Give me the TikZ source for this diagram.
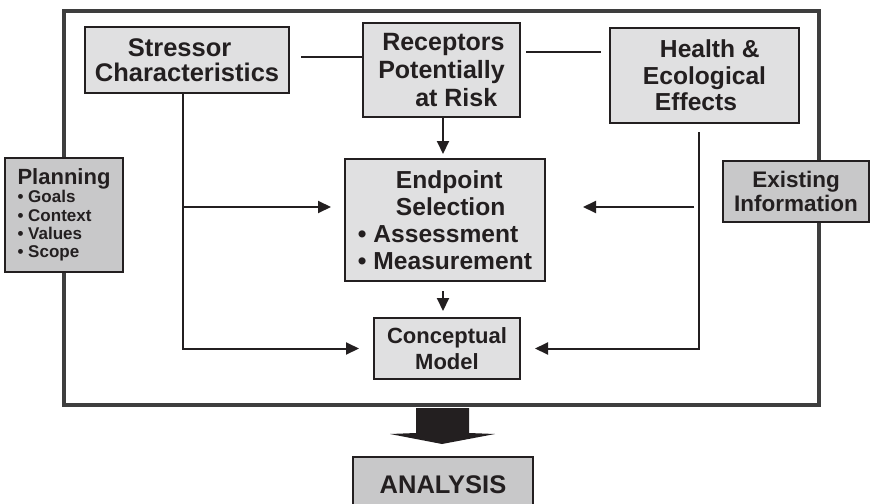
\documentclass[tikz,border=0pt]{standalone}
\usepackage{fontspec}
\setmainfont{Liberation Sans}
\usetikzlibrary{arrows.meta}
\definecolor{ink}{RGB}{35,31,32}
\definecolor{framegray}{RGB}{62,62,62}
\definecolor{boxlight}{RGB}{224,224,225}
\definecolor{boxdark}{RGB}{200,200,201}
% small bulleted line inside the planning box
\newcommand\plnitem[1]{\fontsize{17}{18.3}\selectfont • #1}
\begin{document}
\begin{tikzpicture}[x=1pt,y=-1pt,
  box/.style={draw=ink, line width=2pt, fill=boxlight, text=ink, inner sep=0pt},
  darkbox/.style={box, fill=boxdark},
  link/.style={draw=ink, line width=2pt},
  arr/.style={link, -{Triangle[length=13pt,width=12pt]}},
]
\useasboundingbox (0,0) rectangle (872,503);
\fill[white] (0,0) rectangle (872,503);

% outer frame of the problem-formulation stage
\draw[framegray, line width=4.3pt] (64,11) rectangle (819,405);

% boxes
\node[box, minimum width=204pt, minimum height=66pt, align=left,
      font=\bfseries\fontsize{25.5}{25}\selectfont] (stressor) at (187,60)
  {\hspace*{33pt}Stressor\\Characteristics};
\node[box, minimum width=157pt, minimum height=94pt, align=left,
      font=\bfseries\fontsize{25}{28}\selectfont] (receptors) at (441.5,70)
  {\hspace*{4pt}Receptors\\Potentially\\\hspace*{37pt}at Risk};
\node[box, minimum width=189pt, minimum height=95pt, align=left,
      font=\bfseries\fontsize{24.6}{26.5}\selectfont] (health) at (704.5,75.5)
  {\hspace*{17pt}Health \&\\Ecological\\\hspace*{12pt}Effects};
\node[darkbox, minimum width=118pt, minimum height=114pt, align=left,
      font=\bfseries\fontsize{22}{18.3}\selectfont] (planning) at (64,215)
  {Planning\\\plnitem{Goals}\\\plnitem{Context}\\\plnitem{Values}\\\plnitem{Scope}};
\node[darkbox, minimum width=146pt, minimum height=61pt, align=center,
      font=\bfseries\fontsize{22.5}{24}\selectfont] (existing) at (796,191.5)
  {Existing\\Information};
\node[box, minimum width=200pt, minimum height=122pt, align=left,
      font=\bfseries\fontsize{24.6}{27}\selectfont] (endpoint) at (445,220)
  {\hspace*{38pt}Endpoint\\\hspace*{38pt}Selection\\• Assessment\\• Measurement};
\node[box, minimum width=146pt, minimum height=61pt, align=center,
      font=\bfseries\fontsize{22}{26}\selectfont] (conceptual) at (447,348.5)
  {Conceptual\\Model};
\node[darkbox, minimum width=180pt, minimum height=55pt,
      font=\bfseries\fontsize{25.5}{28}\selectfont] (analysis) at (443,484.5)
  {ANALYSIS};

% links along the top row
\draw[link] ([xshift=11pt,yshift=3pt]stressor.east) -- ([yshift=3pt]stressor.east -| receptors.west);
\draw[link] ([xshift=5pt,yshift=18pt]receptors.east) -- ([xshift=-8pt,yshift=18pt]receptors.east -| health.west);

% central flow
\draw[arr] ([xshift=1.5pt]receptors.south) -- ([xshift=1.5pt,yshift=4pt]receptors.south |- endpoint.north);
\draw[arr] ([xshift=-2pt,yshift=-9pt]endpoint.south) -- ([xshift=-2pt,yshift=6pt]endpoint.south |- conceptual.north);

% stressor branch
\coordinate (sdrop) at ([xshift=-4pt]stressor.south);
\draw[arr] (sdrop) |- ([xshift=-14pt]conceptual.west);
\draw[arr] ([yshift=13pt]endpoint.west -| sdrop) -- ([xshift=-13pt,yshift=13pt]endpoint.west);

% effects branch
\coordinate (hdrop) at ([xshift=-5.5pt,yshift=-8pt]health.south);
\draw[arr] (hdrop) |- ([xshift=14pt]conceptual.east);
\draw[arr] ([xshift=-5pt,yshift=13pt]endpoint.east -| hdrop) -- ([xshift=37pt,yshift=13pt]endpoint.east);

% block arrow down to the analysis phase
\fill[ink] (416,408) -- (469,408) -- (469,433) -- (495,434) -- (442,444)
  -- (390,434) -- (416,433) -- cycle;
\end{tikzpicture}
\end{document}
